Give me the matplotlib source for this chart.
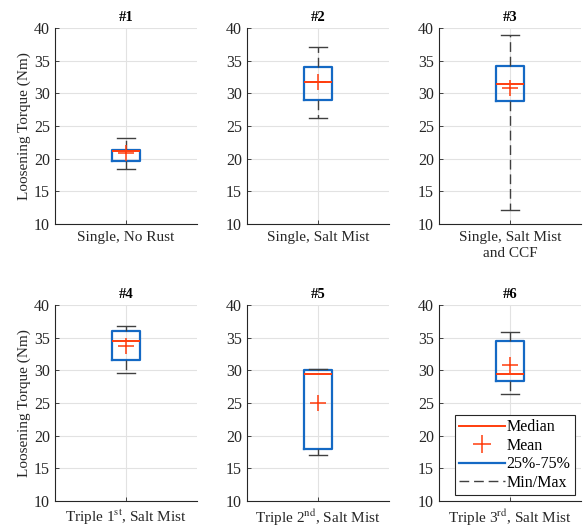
import matplotlib
matplotlib.use("Agg")
import matplotlib.pyplot as plt
from matplotlib.lines import Line2D

plt.rcParams['font.family'] = ['Liberation Serif', 'DejaVu Serif']
plt.rcParams['mathtext.fontset'] = 'stix'

titles = ['#1', '#2', '#3', '#4', '#5', '#6']
xlabels = ['Single, No Rust', 'Single, Salt Mist', 'Single, Salt Mist\nand CCF',
           'Triple 1$^{\\rm st}$, Salt Mist', 'Triple 2$^{\\rm nd}$, Salt Mist',
           'Triple 3$^{\\rm rd}$, Salt Mist']
mins = [18.45, 26.3, 12.2, 29.65, 17.1, 26.4]
q1s = [19.65, 28.95, 28.85, 31.6, 17.95, 28.3]
medians = [21.25, 31.75, 31.4, 34.55, 29.4, 29.5]
means = [20.8, 31.7, 30.8, 33.75, 24.95, 30.85]
q3s = [21.4, 34.1, 34.2, 35.95, 30.0, 34.5]
maxs = [23.15, 37.15, 39.0, 36.8, 30.2, 35.9]
yticks = [10, 15, 20, 25, 30, 35, 40]
ylabel = 'Loosening Torque (Nm)'

RED = '#FF3D0D'
BLUE = '#1469C4'
GRAY = '#404040'
TXT = '#262626'

W, H = 583, 529
fig = plt.figure(figsize=(W / 100, H / 100), dpi=100)

lefts = [55, 247, 439]
aw = 142
tops = [28, 305]
ah = 196

for i in range(6):
    r, c = divmod(i, 3)
    ax = fig.add_axes([lefts[c] / W, 1 - (tops[r] + ah) / H, aw / W, ah / H])
    stats = [dict(med=medians[i], q1=q1s[i], q3=q3s[i], whislo=mins[i],
                  whishi=maxs[i], mean=means[i], fliers=[])]
    ax.bxp(stats, positions=[1], widths=0.2, capwidths=[0.13], showmeans=True,
           boxprops=dict(color=BLUE, linewidth=1.6),
           medianprops=dict(color=RED, linewidth=1.4),
           whiskerprops=dict(color=GRAY, linewidth=1.0, linestyle=(0, (7, 3.5))),
           capprops=dict(color=GRAY, linewidth=1.0),
           meanprops=dict(marker='+', markersize=11, markeredgecolor=RED,
                          markeredgewidth=1.1, markerfacecolor=RED),
           zorder=3)
    ax.set_xlim(0.5, 1.5)
    ax.set_ylim(10, 40)
    ax.set_yticks(yticks)
    ax.set_xticks([1])
    ax.set_xticklabels([xlabels[i]], fontsize=11, color=TXT, linespacing=1.3)
    ax.tick_params(axis='both', direction='in', length=3, colors=TXT, labelsize=11.5,
                   width=0.6)
    ax.tick_params(axis='x', labelsize=11, pad=5)
    ax.grid(True, color='#E2E2E2', linewidth=0.8, zorder=0)
    ax.set_axisbelow(True)
    for s in ['top', 'right']:
        ax.spines[s].set_visible(False)
    for s in ['left', 'bottom']:
        ax.spines[s].set_color(TXT)
        ax.spines[s].set_linewidth(0.8)
    ax.set_title(titles[i], fontsize=10.5, fontweight='bold', pad=5)
    if c == 0:
        ax.set_ylabel(ylabel, fontsize=11, color=TXT, labelpad=2)
    if i == 5:
        handles = [Line2D([], [], color=RED, linewidth=1.4),
                   Line2D([], [], color=RED, linestyle='none', marker='+',
                          markersize=13, markeredgewidth=1.1),
                   Line2D([], [], color=BLUE, linewidth=1.6),
                   Line2D([], [], color=GRAY, linewidth=1.0, linestyle=(0, (7, 3.5)))]
        leg = ax.legend(handles, ['Median', 'Mean', '25%-75%', 'Min/Max'],
                        loc='lower right', fontsize=11.5, fancybox=False,
                        edgecolor=TXT, framealpha=1, handlelength=2.9,
                        handletextpad=0.1, borderpad=0.25, labelspacing=0.15,
                        borderaxespad=0.4)
        leg.get_frame().set_linewidth(0.8)

fig.savefig('out.png', dpi=100)
